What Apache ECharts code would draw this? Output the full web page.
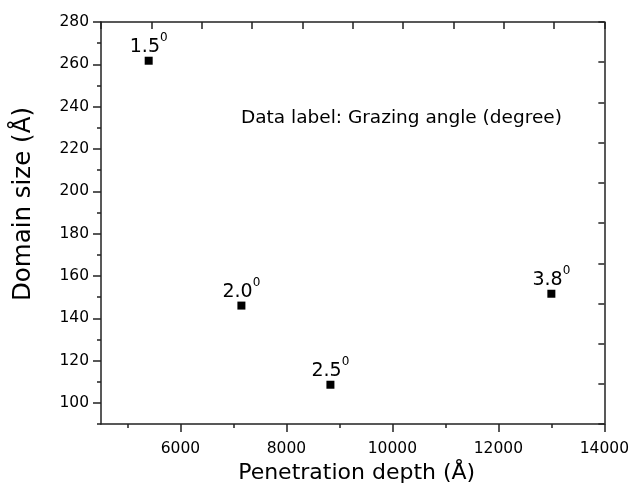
<html>
<head>
<meta charset="UTF-8">
<title>Domain size vs penetration depth</title>
<script type="text/javascript" src="https://cdn.jsdelivr.net/npm/echarts@6/dist/echarts.min.js"></script>
</head>
<body style="margin:0;background:#fff">
<div id="chart" style="width:632px;height:489px"></div>
<script type="text/javascript">
// data
var depth = [5400, 7150, 8830, 13000];          // penetration depth (Å)
var domainSize = [261.7, 146.0, 108.6, 151.6];  // domain size (Å)
var angleLabels = ['1.5', '2.0', '2.5', '3.8']; // grazing angle
var xTicks = [6000, 8000, 10000, 12000, 14000];
var xMinorTicks = [5000, 7000, 9000, 11000, 13000];
var yTicks = [100, 120, 140, 160, 180, 200, 220, 240, 260, 280];
var yMinorTicks = [90, 110, 130, 150, 170, 190, 210, 230, 250, 270];

var font = 'DejaVu Sans';
var axisColor = '#222';

var points = [];
for (var i = 0; i < depth.length; i++) {
	points.push([depth[i], domainSize[i]]);
}

function lineStyle() {
	return {show: true, lineStyle: {color: axisColor, width: 1.5}};
}

var myChart = echarts.init(document.getElementById('chart'));
var option = {
	animation: false,
	title: {
		text: 'Data label: Grazing angle (degree)',
		left: 236,
		top: 104,
		textStyle: {fontFamily: font, fontSize: 18.5, fontWeight: 'normal', color: '#000'}
	},
	grid: {left: 101, right: 26, top: 22, bottom: 62},
	xAxis: [{
		type: 'value', position: 'bottom', min: 4500, max: 14000,
		name: 'Penetration depth (Å)', nameLocation: 'middle', nameGap: 37,
		nameTextStyle: {fontFamily: font, fontSize: 22, color: '#000', padding: [0, 0, 0, 8]},
		axisLine: lineStyle(),
		axisTick: {show: true, inside: false, length: 8, customValues: xTicks, lineStyle: {color: axisColor, width: 1.5}},
		axisLabel: {
			customValues: xTicks, margin: 17, fontFamily: font, fontSize: 15.5, color: '#000',
			formatter: function(v) { return String(v); }
		},
		splitLine: {show: false}
	}, {
		// minor ticks on bottom axis
		type: 'value', position: 'bottom', min: 4500, max: 14000,
		axisLine: {show: false},
		axisTick: {show: true, inside: false, length: 4, customValues: xMinorTicks, lineStyle: {color: axisColor, width: 1.5}},
		axisLabel: {show: false},
		splitLine: {show: false}
	}, {
		// top frame
		type: 'value', position: 'top', min: 0, max: 10, interval: 1,
		axisLine: lineStyle(),
		axisTick: {show: true, inside: true, length: 7, lineStyle: {color: axisColor, width: 1.5}},
		axisLabel: {show: false},
		splitLine: {show: false}
	}],
	yAxis: [{
		type: 'value', position: 'left', min: 90, max: 280,
		name: 'Domain size (Å)', nameLocation: 'middle', nameGap: 65,
		nameTextStyle: {fontFamily: font, fontSize: 24.5, color: '#000', padding: [0, 0, 0, 38]},
		axisLine: lineStyle(),
		axisTick: {show: true, inside: false, length: 8, customValues: yTicks, lineStyle: {color: axisColor, width: 1.5}},
		axisLabel: {customValues: yTicks, margin: 12, fontFamily: font, fontSize: 15.5, color: '#000'},
		splitLine: {show: false}
	}, {
		// minor ticks on left axis
		type: 'value', position: 'left', min: 90, max: 280,
		axisLine: {show: false},
		axisTick: {show: true, inside: false, length: 4, customValues: yMinorTicks, lineStyle: {color: axisColor, width: 1.5}},
		axisLabel: {show: false},
		splitLine: {show: false}
	}, {
		// right frame
		type: 'value', position: 'right', min: 0, max: 10, interval: 1,
		axisLine: lineStyle(),
		axisTick: {show: true, inside: true, length: 6, lineStyle: {color: axisColor, width: 1.5}},
		axisLabel: {show: false},
		splitLine: {show: false}
	}],
	series: [{
		type: 'scatter',
		xAxisIndex: 0,
		yAxisIndex: 0,
		symbol: 'rect',
		symbolSize: 8,
		itemStyle: {color: '#000', opacity: 1},
		data: points,
		label: {
			show: true,
			position: 'top',
			distance: 0,
			color: '#000',
			opacity: 1,
			textBorderWidth: 0,
			formatter: function(p) {
				return '{a|' + angleLabels[p.dataIndex] + '}{b|0}';
			},
			rich: {
				a: {fontFamily: font, fontSize: 19, lineHeight: 20, color: '#000', verticalAlign: 'bottom'},
				// superscript "0"
				b: {fontFamily: font, fontSize: 12, lineHeight: 12, padding: [0, 0, 13, 0], color: '#000', verticalAlign: 'bottom'}
			}
		}
	}]
};
myChart.setOption(option);
</script>
</body>
</html>
